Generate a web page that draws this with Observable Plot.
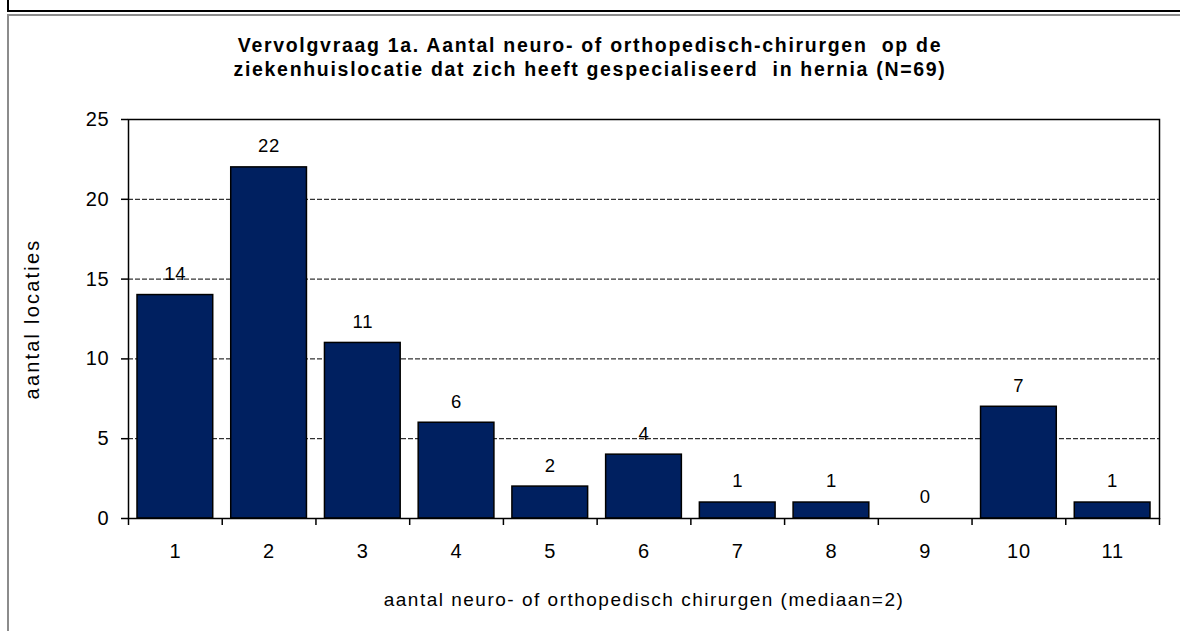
<!DOCTYPE html>
<html>
<head>
<meta charset="utf-8">
<script src="https://cdn.jsdelivr.net/npm/d3@7"></script>
<script src="https://cdn.jsdelivr.net/npm/@observablehq/plot@0.6"></script>
<style>
  html, body { margin: 0; padding: 0; background: #fff; }
  #wrap { position: relative; width: 1180px; height: 631px; overflow: hidden; font-family: "Liberation Sans", Arial, sans-serif; }
  #title { position: absolute; left: 0; width: 1180px; top: 33px; text-align: center; font-weight: bold; font-size: 19.5px; letter-spacing: 1.7px; word-spacing: 0px; line-height: 24px; color: #000; }
  .b { position: absolute; }
  #chart { position: absolute; left: 0; top: 0; }
  #chart svg g[aria-label="y-axis tick label"] text,
  #chart svg g[aria-label="x-axis tick label"] text { font-size: 20px; letter-spacing: 0.8px; }
  #chart svg g.barlabel text { font-size: 18.5px; letter-spacing: 0.8px; }
  #chart svg g.xtitle text { font-size: 19px; letter-spacing: 1.5px; }
  #chart svg g.ytitle text { font-size: 20px; letter-spacing: 2.2px; }
</style>
</head>
<body>
<div id="wrap">
  <div class="b" style="left:7px;top:0;width:2px;height:12px;background:#000"></div>
  <div class="b" style="left:7px;top:10px;width:1173px;height:2px;background:#000"></div>
  <div class="b" style="left:7px;top:14px;width:1173px;height:2px;background:#8c8c8c"></div>
  <div class="b" style="left:7px;top:14px;width:2px;height:617px;background:#8c8c8c"></div>
  <div id="chart"></div>
  <div id="title">Vervolgvraag 1a. Aantal neuro- of orthopedisch-chirurgen&nbsp; op de<br>ziekenhuislocatie dat zich heeft gespecialiseerd&nbsp; in hernia (N=69)</div>
</div>
<script>
const categories = [1, 2, 3, 4, 5, 6, 7, 8, 9, 10, 11];
const counts = [14, 22, 11, 6, 2, 4, 1, 1, 0, 7, 1];
const yTicks = [0, 5, 10, 15, 20, 25];
const gridValues = [5, 10, 15, 20];
const xLabel = "aantal neuro- of orthopedisch chirurgen (mediaan=2)";
const yLabel = "aantal locaties";

const data = categories.map((c, i) => ({c, n: counts[i]}));
const boundaries = [categories[0] - 0.5, ...categories.map(c => c + 0.5)];

const chart = Plot.plot({
  width: 1180,
  height: 631,
  marginLeft: 128,
  marginRight: 21,
  marginTop: 119,
  marginBottom: 113,
  style: {fontFamily: "Liberation Sans, Arial, sans-serif", fontSize: "19px", color: "#000", background: "transparent"},
  x: {type: "linear", domain: [categories[0] - 0.5, categories[categories.length - 1] + 0.5]},
  y: {domain: [0, 25]},
  marks: [
    Plot.ruleY(gridValues, {stroke: "#000", strokeWidth: 1, strokeDasharray: "5,2"}),
    Plot.rectY(data, {x1: d => d.c - 0.5, x2: d => d.c + 0.5, y: "n", fill: "#002060", stroke: "#000", strokeWidth: 1.5, insetLeft: 9, insetRight: 9}),
    Plot.text(data, {x: "c", y: "n", text: d => String(d.n), dy: -21, fontSize: 18.5, fill: "#000", className: "barlabel"}),
    Plot.frame({stroke: "#000", strokeWidth: 1.5}),
    Plot.axisY({ticks: yTicks, tickSize: 7, tickPadding: 12, fontSize: 20, label: null, stroke: "#000", strokeWidth: 1.5}),
    Plot.axisX({ticks: boundaries, tickSize: 7, tickFormat: () => "", label: null, stroke: "#000", strokeWidth: 1.5}),
    Plot.axisX({ticks: categories, tickSize: 0, tickPadding: 25, tickFormat: d => String(d), fontSize: 20, label: null}),
    Plot.text([xLabel], {frameAnchor: "bottom", dy: 87, fontSize: 19, fill: "#000", className: "xtitle"}),
    Plot.text([yLabel], {frameAnchor: "left", textAnchor: "middle", dx: -96, rotate: -90, fontSize: 20, fill: "#000", className: "ytitle"})
  ]
});
document.getElementById("chart").appendChild(chart);
</script>
</body>
</html>
